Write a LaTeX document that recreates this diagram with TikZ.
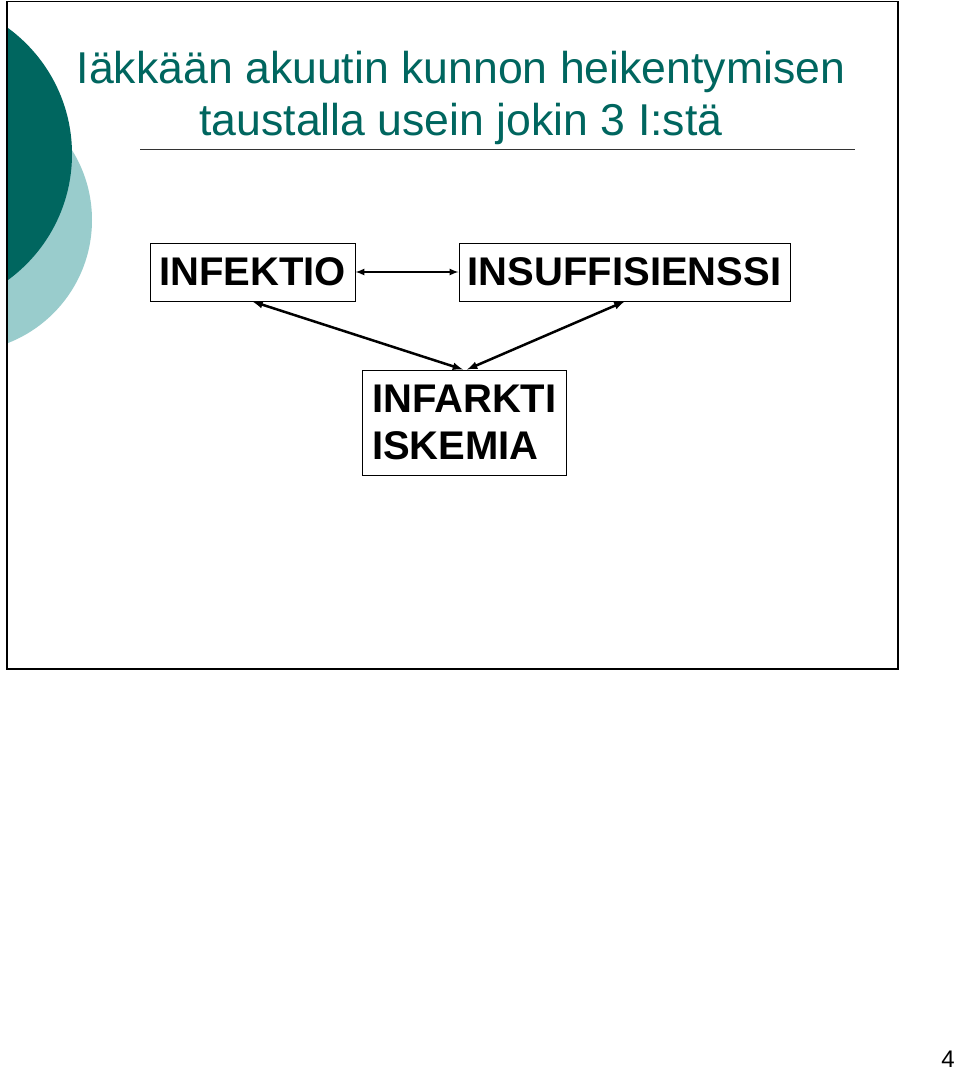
\documentclass[tikz,border=0pt]{standalone}
\usepackage{fontspec}
\setmainfont{Liberation Sans}
\usepackage{tikz}
\usetikzlibrary{arrows}
\usepackage{xcolor}
\definecolor{tealdark}{HTML}{00665F}
\definecolor{teallight}{HTML}{99CCCC}
\tikzset{box/.style={draw, line width=1, inner sep=0pt, font=\fontsize{40}{47}\selectfont\bfseries}}
\begin{document}
\begin{tikzpicture}[x=1pt, y=-1pt]
      \useasboundingbox[fill=white] (0,0) rectangle (960,1074);
      % slide background
      \begin{scope}
        \clip (8,2) rectangle (897,668);
        \fill[teallight] (-40,220) circle (132);
        \fill[tealdark] (-84,154) circle (156);
      \end{scope}
      \draw[line width=1.5] (7,1.5) rectangle (898,669);
      % title
      \node[align=center, text=tealdark, font=\fontsize{44.6}{52}\selectfont] at (461, 98) (T) {I\"akk\"a\"an akuutin kunnon heikentymisen \\ taustalla usein jokin 3 I:st\"a};
      \draw[line width=1, black!80] (140,149) -- (855,149);
      % the three I's
      \node[box, minimum width=205, minimum height=58] at (252.5, 272) (INF) {INFEKTIO};
      \node[box, minimum width=331, minimum height=58] at (624.5, 272) (INS) {INSUFFISIENSSI};
      \node[box, minimum height=105, text width=204, align=left] at (464, 422.5) (ISK) {\hspace*{10pt}INFARKTI\\\hspace*{10pt}ISKEMIA};
      \draw[<->, >=latex, line width=2] (INF) -- (INS);
      \draw[<->, >=latex, line width=2.5] (INF.south) -- ([xshift=-1]ISK.north);
      \draw[<->, >=latex, line width=2.5] (INS.south) -- ([xshift=3]ISK.north);
      \node[inner sep=0pt, font=\fontsize{24}{28}\selectfont] at (948, 1059) (P) {4};
    \end{tikzpicture}
\end{document}
